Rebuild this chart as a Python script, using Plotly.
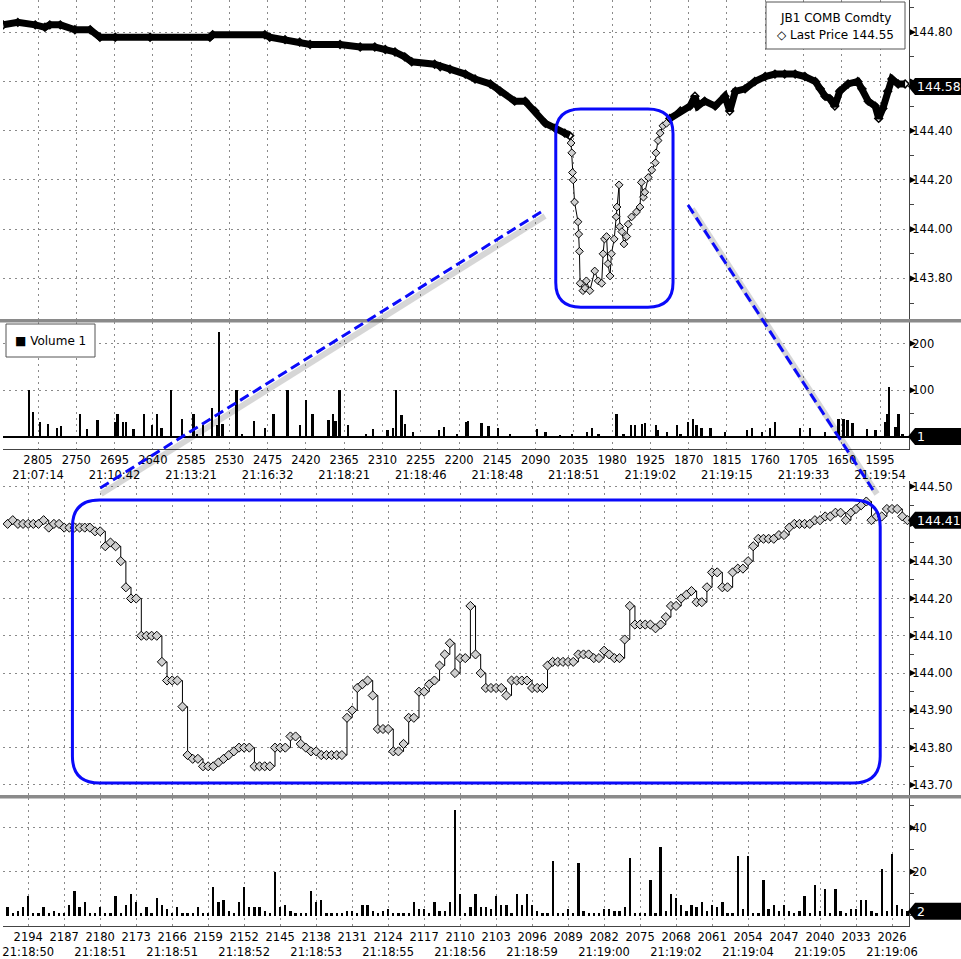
import plotly.graph_objects as go

# ---- upper price panel (tick count on x, counting down) ----
top_tick_a = [2855, 2834, 2809, 2795, 2788, 2773, 2752, 2730, 2716, 2694, 2644, 2558, 2554, 2479, 2472,
              2450, 2429, 2414, 2371, 2342, 2321, 2306, 2292, 2278, 2268, 2235, 2227, 2213, 2191, 2177,
              2155, 2141, 2120, 2105, 2091, 2076, 2062, 2048, 2041]
top_px_a = [144.83, 144.84, 144.83, 144.82, 144.83, 144.83, 144.81, 144.81, 144.78, 144.78, 144.78, 144.78,
            144.79, 144.79, 144.78, 144.77, 144.76, 144.75, 144.75, 144.74, 144.74, 144.73, 144.72, 144.70,
            144.68, 144.67, 144.66, 144.65, 144.63, 144.61, 144.59, 144.56, 144.52, 144.52, 144.48, 144.43,
            144.41, 144.39, 144.38]
top_tick_b = [2039, 2038, 2037, 2036, 2034, 2029, 2028, 2027, 2026, 2022, 2019, 2017, 2012, 2005, 2000,
              1995, 1993, 1991, 1988, 1986, 1983, 1981, 1977, 1974, 1973, 1970, 1969, 1966, 1963, 1959,
              1957, 1952, 1945, 1940, 1938, 1935, 1933, 1928, 1923, 1918, 1917, 1914, 1911, 1907, 1902]
top_px_b = [144.35, 144.31, 144.23, 144.20, 144.11, 144.03, 143.98, 143.91, 143.78, 143.75, 143.76, 143.79,
            143.75, 143.83, 143.79, 143.78, 143.90, 143.96, 143.97, 143.86, 143.81, 143.90, 143.96, 144.05,
            144.09, 144.18, 144.01, 143.99, 143.94, 143.97, 144.02, 144.05, 144.07, 144.09, 144.19, 144.13,
            144.15, 144.21, 144.24, 144.27, 144.31, 144.36, 144.39, 144.42, 144.43]
top_tick_c = [1897, 1882, 1868, 1861, 1857, 1847, 1832, 1818, 1811, 1803, 1789, 1775, 1760, 1746, 1732,
              1717, 1703, 1688, 1681, 1674, 1667, 1660, 1653, 1641, 1627, 1621, 1612, 1602, 1597, 1591,
              1584, 1578, 1569, 1559]
top_px_c = [144.45, 144.48, 144.50, 144.54, 144.50, 144.52, 144.50, 144.54, 144.48, 144.56, 144.57, 144.60,
            144.62, 144.63, 144.63, 144.63, 144.62, 144.60, 144.57, 144.54, 144.53, 144.50, 144.56, 144.59,
            144.60, 144.57, 144.52, 144.50, 144.45, 144.49, 144.56, 144.61, 144.59, 144.59]

# ---- upper volume panel (the larger prints) ----
top_vol_tick = [2818, 2813, 2802, 2791, 2778, 2772, 2745, 2735, 2720, 2694, 2691, 2683, 2679, 2668, 2653,
                2641, 2634, 2628, 2614, 2598, 2582, 2577, 2568, 2555, 2548, 2545, 2541, 2539, 2520, 2512,
                2495, 2479, 2467, 2447, 2429, 2420, 2411, 2388, 2381, 2378, 2372, 2360, 2334, 2324, 2303,
                2295, 2291, 2283, 2278, 2266, 2229, 2222, 2203, 2190, 2187, 2168, 2158, 2144, 2127, 2088,
                2076, 2055, 2038, 2016, 2009, 2000, 1974, 1964, 1953, 1948, 1937, 1933, 1917, 1914, 1901,
                1887, 1882, 1871, 1864, 1859, 1852, 1839, 1818, 1786, 1779, 1765, 1753, 1746, 1710, 1696,
                1674, 1655, 1648, 1642, 1635, 1614, 1602, 1588, 1585, 1582, 1573, 1569, 1563]
top_vol = [100, 54, 31, 27, 20, 24, 50, 17, 37, 31, 50, 31, 31, 16, 50, 25, 50, 20, 100, 39,
           50, 6, 25, 61, 25, 224, 27, 27, 100, 6, 34, 20, 50, 100, 25, 80, 50, 37, 50, 34,
           100, 25, 6, 16, 14, 19, 100, 46, 27, 10, 14, 21, 6, 31, 34, 29, 24, 20, 6, 16,
           10, 5, 6, 10, 20, 6, 49, 6, 25, 25, 27, 29, 26, 15, 10, 26, 6, 31, 39, 25,
           19, 20, 10, 14, 20, 10, 20, 31, 20, 20, 10, 39, 39, 37, 29, 16, 14, 31, 49, 107,
           21, 50, 6]

# ---- zoomed panels: every tick from 2198 down to 2023 ----
low_tick = list(range(2198, 2022, -1))
low_px = [144.40, 144.41, 144.40, 144.40, 144.40, 144.40, 144.40, 144.41, 144.39, 144.40,
          144.40, 144.39, 144.39, 144.39, 144.39, 144.39, 144.39, 144.38, 144.38, 144.34,
          144.35, 144.34, 144.30, 144.23, 144.20, 144.20, 144.10, 144.10, 144.10, 144.10,
          144.03, 143.98, 143.98, 143.98, 143.91, 143.78, 143.77, 143.77, 143.75, 143.75,
          143.75, 143.76, 143.77, 143.78, 143.79, 143.80, 143.80, 143.80, 143.75, 143.75,
          143.75, 143.75, 143.80, 143.80, 143.80, 143.83, 143.83, 143.81, 143.80, 143.79,
          143.79, 143.78, 143.78, 143.78, 143.78, 143.78, 143.88, 143.90, 143.96, 143.97,
          143.98, 143.94, 143.85, 143.85, 143.85, 143.79, 143.79, 143.81, 143.88, 143.88,
          143.95, 143.95, 143.97, 143.98, 144.02, 144.05, 144.08, 144.00, 144.04, 144.04,
          144.18, 144.05, 144.00, 143.96, 143.96, 143.96, 143.96, 143.94, 143.98, 143.98,
          143.98, 143.98, 143.96, 143.96, 143.96, 144.02, 144.03, 144.03, 144.03, 144.03,
          144.03, 144.05, 144.05, 144.05, 144.04, 144.04, 144.06, 144.05, 144.04, 144.04,
          144.09, 144.18, 144.13, 144.13, 144.13, 144.13, 144.12, 144.13, 144.15, 144.18,
          144.18, 144.20, 144.21, 144.22, 144.19, 144.19, 144.23, 144.27, 144.27, 144.23,
          144.23, 144.27, 144.28, 144.28, 144.30, 144.34, 144.36, 144.36, 144.36, 144.36,
          144.37, 144.37, 144.39, 144.40, 144.40, 144.40, 144.40, 144.41, 144.41, 144.42,
          144.42, 144.43, 144.43, 144.41, 144.43, 144.44, 144.45, 144.46, 144.41, 144.42,
          144.42, 144.44, 144.44, 144.44, 144.42, 144.41]
low_vol = [4, 1, 2, 4, 9, 1, 1, 4, 1, 2, 1, 1, 5, 11, 4, 6, 1, 1, 4, 1,
           1, 9, 1, 5, 10, 6, 1, 4, 1, 8, 5, 3, 1, 4, 1, 1, 1, 4, 1, 1,
           13, 6, 7, 2, 1, 6, 13, 4, 4, 4, 2, 1, 20, 4, 5, 2, 1, 1, 1, 11,
           6, 7, 1, 1, 1, 1, 2, 2, 1, 5, 5, 2, 1, 2, 3, 1, 1, 1, 1, 6,
           3, 3, 1, 6, 2, 2, 6, 48, 10, 1, 4, 10,
           4, 4, 3, 9, 5, 5, 1, 10, 5, 10, 5, 2, 1, 1, 25, 1, 1, 3, 1, 24,
           2, 1, 1, 1, 3, 3, 2, 2, 4, 26, 1, 1, 1, 16, 1, 31, 2, 10, 8, 5,
           2, 5, 4, 6, 2, 5, 4, 6, 1, 1, 27, 3, 27, 1, 1, 16, 3, 5, 2, 5,
           2, 1, 2, 9, 1, 14, 2, 12, 1, 12, 2, 1, 3, 3, 7, 7, 2, 1, 21, 2,
           28, 5, 3, 2]

# ---- axis labels ----
top_ticks = [2805, 2750, 2695, 2640, 2585, 2530, 2475, 2420, 2365, 2310, 2255, 2200,
             2145, 2090, 2035, 1980, 1925, 1870, 1815, 1760, 1705, 1650, 1595]
top_times = ["21:07:14", "21:10:42", "21:13:21", "21:16:32", "21:18:21", "21:18:46",
             "21:18:48", "21:18:51", "21:19:02", "21:19:15", "21:19:33", "21:19:54"]
low_ticks = [2194, 2187, 2180, 2173, 2166, 2159, 2152, 2145, 2138, 2131, 2124, 2117, 2110,
             2103, 2096, 2089, 2082, 2075, 2068, 2061, 2054, 2047, 2040, 2033, 2026]
low_times = ["21:18:50", "21:18:51", "21:18:51", "21:18:52", "21:18:53", "21:18:55", "21:18:56",
             "21:18:59", "21:19:00", "21:19:02", "21:19:04", "21:19:05", "21:19:06"]
top_px_ticks = [143.80, 144.00, 144.20, 144.40, 144.60, 144.80]
top_vol_ticks = [100, 200]
low_px_ticks = [143.70, 143.80, 143.90, 144.00, 144.10, 144.20, 144.30, 144.40, 144.50]
low_vol_ticks = [20, 40]
# (axis, value, text) of the last-value tags; the tick label under a tag is not printed
last_tags = [("y", 144.58, "144.58"), ("y2", 1, "1"), ("y3", 144.41, "144.41"), ("y4", 2, "2")]
top_hidden = [144.60]
low_hidden = [144.40]

FONT = "DejaVu Sans"
BLUE = "rgb(10,10,250)"
GRID = "#8a8a8a"
DOTS = "2px,4px"


def px_x(px):
    return (px - 3) / 906.0


def px_y(py):
    return (926 - py) / 926.0


def two_line(ticks, times):
    out = []
    for i, v in enumerate(ticks):
        t = times[i // 2] if i % 2 == 0 else " "
        out.append(str(v) + "<br>" + t)
    return out


def ylabels(vals, fmt, hide=()):
    return ["" if v in hide else fmt.format(v) for v in vals]


fig = go.Figure()

# upper price: dense parts drawn thick, the plunge drawn thin with markers
for xs, ys in [(top_tick_a, top_px_a), (top_tick_c, top_px_c)]:
    fig.add_trace(go.Scatter(x=xs, y=ys, mode="lines+markers", xaxis="x", yaxis="y",
                             line=dict(color="black", width=7),
                             marker=dict(symbol="diamond-open", size=6, color="black", line=dict(width=1.5))))
fig.add_trace(go.Scatter(x=top_tick_b, y=top_px_b, mode="lines+markers", xaxis="x", yaxis="y",
                         line=dict(color="black", width=1),
                         marker=dict(symbol="diamond", size=6, color="#d0d0d0",
                                     line=dict(color="black", width=1))))
fig.add_trace(go.Bar(x=top_vol_tick, y=top_vol, width=2.5, xaxis="x2", yaxis="y2",
                     marker=dict(color="black", line=dict(width=0))))

fig.add_trace(go.Scatter(x=low_tick, y=low_px, mode="lines+markers", xaxis="x3", yaxis="y3",
                         line=dict(color="black", width=1, shape="hv"),
                         marker=dict(symbol="diamond", size=7, color="#cfcfcf",
                                     line=dict(color="black", width=1))))
fig.add_trace(go.Bar(x=low_tick, y=low_vol, width=0.45, xaxis="x4", yaxis="y4",
                     marker=dict(color="black", line=dict(width=0))))

xbase = dict(showgrid=True, gridcolor=GRID, griddash=DOTS, gridwidth=1, zeroline=False,
             tickmode="array", ticks="", tickangle=0, automargin=False,
             tickfont=dict(family=FONT, size=11.5, color="black"))
ybase = dict(side="right", showgrid=True, gridcolor=GRID, griddash=DOTS, gridwidth=1,
             showline=True, linecolor="#444", linewidth=1, tickmode="array", ticks="",
             automargin=False,
             tickfont=dict(family=FONT, size=11.5, color="black"))

fig.update_layout(
    width=961, height=959,
    margin=dict(l=3, r=52, t=0, b=33),
    paper_bgcolor="white", plot_bgcolor="white",
    showlegend=False, bargap=0,
    font=dict(family=FONT, size=12, color="black"),
    xaxis=dict(xbase, domain=[0, 1], anchor="y", range=[2855.3, 1553.4],
               tickvals=top_ticks, showticklabels=False),
    yaxis=dict(ybase, domain=[px_y(319), 1], anchor="x", range=[143.635, 144.931],
               tickvals=top_px_ticks, ticktext=ylabels(top_px_ticks, "{:.2f}", top_hidden),
               minor=dict(dtick=0.1, tick0=143.7, ticks="outside", ticklen=4, tickcolor="#444", showgrid=False)),
    xaxis2=dict(xbase, domain=[0, 1], anchor="y2", range=[2855.3, 1553.4],
                tickvals=top_ticks, ticktext=two_line(top_ticks, top_times),
                showline=True, linecolor="#444"),
    yaxis2=dict(ybase, domain=[px_y(449), px_y(322)], anchor="x2", range=[-26, 246],
                tickvals=top_vol_ticks, ticktext=ylabels(top_vol_ticks, "{}"),
                zeroline=True, zerolinecolor="black", zerolinewidth=2,
                minor=dict(dtick=50, tick0=0, ticks="outside", ticklen=4, tickcolor="#444", showgrid=False)),
    xaxis3=dict(xbase, domain=[0, 1], anchor="y3", range=[2198.9, 2022.7],
                tickvals=low_ticks, showticklabels=False),
    yaxis3=dict(ybase, domain=[px_y(795), px_y(481)], anchor="x3", range=[143.673, 144.515],
                tickvals=low_px_ticks, ticktext=ylabels(low_px_ticks, "{:.2f}", low_hidden),
                minor=dict(dtick=0.05, tick0=143.7, ticks="outside", ticklen=4, tickcolor="#444", showgrid=False)),
    xaxis4=dict(xbase, domain=[0, 1], anchor="y4", range=[2198.9, 2022.7],
                tickvals=low_ticks, ticktext=two_line(low_ticks, low_times),
                showline=True, linecolor="#444"),
    yaxis4=dict(ybase, domain=[0, px_y(798)], anchor="x4", range=[-4.7, 53.5],
                tickvals=low_vol_ticks, ticktext=ylabels(low_vol_ticks, "{}"), zeroline=False,
                minor=dict(dtick=10, tick0=0, ticks="outside", ticklen=4, tickcolor="#444", showgrid=False)),
)

shapes = []
annotations = []
# panel separators
for y0, y1 in [(319, 322.5), (795, 798.5)]:
    shapes.append(dict(type="rect", xref="paper", yref="paper", x0=-0.01, x1=1.07,
                       y0=px_y(y1), y1=px_y(y0), fillcolor="#8a8a8a", line=dict(width=0), layer="above"))

# small pointer marks at the labelled ticks of each right axis
for yref, vals in [("y", top_px_ticks), ("y2", top_vol_ticks), ("y3", low_px_ticks), ("y4", low_vol_ticks)]:
    for v in vals:
        shapes.append(dict(type="path", xref="paper", xsizemode="pixel", xanchor=1,
                           yref=yref, ysizemode="pixel", yanchor=v,
                           path="M1,3 L7,0 L1,-3 Z", fillcolor="black", line=dict(width=0)))


def rounded(xl, xr, yb, yt, rx, ry):
    # x axis reversed: moving right means smaller tick number
    return (f"M{xl - rx},{yt} L{xr + rx},{yt} Q{xr},{yt} {xr},{yt - ry} "
            f"L{xr},{yb + ry} Q{xr},{yb} {xr + rx},{yb} L{xl - rx},{yb} "
            f"Q{xl},{yb} {xl},{yb + ry} L{xl},{yt - ry} Q{xl},{yt} {xl - rx},{yt} Z")


shapes.append(dict(type="path", xref="x", yref="y", path=rounded(2061, 1892.5, 143.683, 144.488, 36, 0.10),
                   line=dict(color=BLUE, width=3)))
shapes.append(dict(type="path", xref="x3", yref="y3", path=rounded(2185.4, 2028.3, 143.705, 144.464, 5.3, 0.072),
                   line=dict(color=BLUE, width=3)))

# connector lines with soft shadow
for (xa, ya), (xb, yb) in [((541, 212), (97, 490)), ((688, 205), (873, 490))]:
    shapes.append(dict(type="line", xref="paper", yref="paper",
                       x0=px_x(xa + 4), y0=px_y(ya + 4), x1=px_x(xb + 4), y1=px_y(yb + 4),
                       line=dict(color="rgba(0,0,0,0.16)", width=6)))
    shapes.append(dict(type="line", xref="paper", yref="paper",
                       x0=px_x(xa), y0=px_y(ya), x1=px_x(xb), y1=px_y(yb),
                       line=dict(color=BLUE, width=3, dash="10px,5px")))

# legend boxes
shapes.append(dict(type="rect", xref="paper", yref="paper", x0=px_x(766), x1=px_x(905),
                   y0=px_y(49), y1=px_y(2), fillcolor="white", line=dict(color="#555", width=1)))
shapes.append(dict(type="rect", xref="paper", yref="paper", x0=px_x(6), x1=px_x(95),
                   y0=px_y(357), y1=px_y(324), fillcolor="white", line=dict(color="#555", width=1)))

annotations += [
    dict(xref="paper", yref="paper", x=px_x(835), y=px_y(18), xanchor="center", yanchor="middle",
         text="JB1 COMB Comdty", showarrow=False, font=dict(family=FONT, size=12)),
    dict(xref="paper", yref="paper", x=px_x(835), y=px_y(35), xanchor="center", yanchor="middle",
         text="\u25c7 Last Price 144.55", showarrow=False, font=dict(family=FONT, size=12)),
    dict(xref="paper", yref="paper", x=px_x(50), y=px_y(341), xanchor="center", yanchor="middle",
         text="\u25a0 Volume 1", showarrow=False, font=dict(family=FONT, size=12)),
]

# last value tags on the right axis
for yref, val, txt in last_tags:
    shapes.append(dict(type="path", xref="paper", xsizemode="pixel", xanchor=1,
                       yref=yref, ysizemode="pixel", yanchor=val,
                       path="M-1,0 L6,8.5 L54,8.5 L54,-8.5 L6,-8.5 Z",
                       fillcolor="black", line=dict(width=0), layer="above"))
    annotations.append(dict(xref="paper", x=1, xanchor="left", xshift=6, yref=yref, y=val,
                            text=txt, showarrow=False, font=dict(family=FONT, size=12.5, color="white")))

fig.update_layout(shapes=shapes, annotations=annotations)

# the page's default body margin would push the 961x959 figure off the window
fig.write_html("out.html", config={"displayModeBar": False},
               post_script="document.body.style.margin='0';")
